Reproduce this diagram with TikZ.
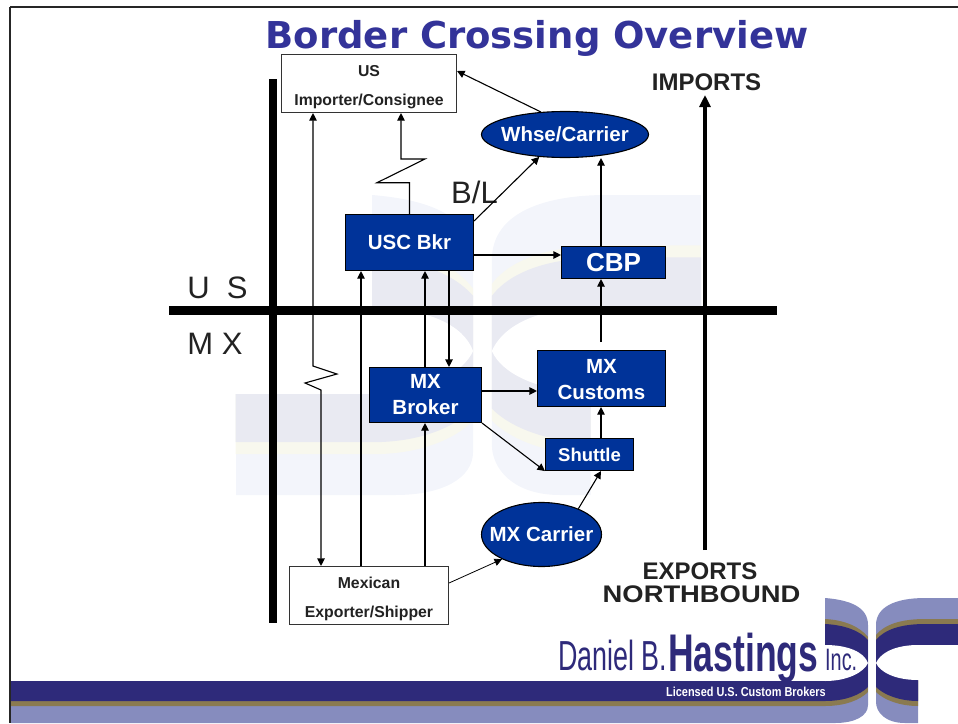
\documentclass[tikz,border=0pt]{standalone}
\usepackage{fontspec}
\usepackage{graphicx}
\setmainfont{Liberation Sans}
\newfontfamily\titlefont{DejaVu Sans}
\usetikzlibrary{arrows.meta,shapes.geometric}
\definecolor{boxblue}{HTML}{003399}
\definecolor{titleblue}{HTML}{333399}
\definecolor{inkgrey}{HTML}{222222}
\definecolor{logodark}{HTML}{2E2A7A}
\definecolor{logobrown}{HTML}{8A7A50}
\definecolor{logolight}{HTML}{868CBE}
\definecolor{paledark}{HTML}{E9EAF2}
\definecolor{palebrown}{HTML}{F8F8EE}
\definecolor{palelight}{HTML}{F3F5FB}
% #1 left end, #2 right end, #3 light, #4 brown, #5 dark
\newcommand{\hastingsmark}[5]{
\begin{scope}
\clip (825,598) .. controls (850,600) and (868,607) .. (868,625) -- (868,705) .. controls (868,716) and (855,723) .. (835,723) -- (#1,723) -- (#1,681) -- (825,681) -- cycle;
\fill[#3] (#1,590) rectangle (880,730);
\fill[#4] (825,619) .. controls (845,620) and (860,627) .. (868,637) -- (868,692) .. controls (860,700) and (845,706) .. (825,706) -- (#1,706) -- (#1,619) -- cycle;
\fill[#5] (825,624) .. controls (845,625) and (860,631) .. (868,640) -- (868,687) .. controls (860,695) and (845,701) .. (825,701) -- (#1,701) -- (#1,624) -- cycle;
\fill[white] (825,645) .. controls (848,645) and (864,652) .. (868,663) .. controls (864,672) and (848,681) .. (825,681) -- cycle;
\end{scope}
\begin{scope}
\clip (876,625) .. controls (876,607) and (895,598) .. (925,598) -- (#2,598) -- (#2,645) -- (918,645) -- (918,723) -- (905,723) .. controls (885,723) and (876,712) .. (876,702) -- cycle;
\fill[#3] (870,590) rectangle (#2,730);
\fill[#4] (876,635) .. controls (884,625) and (900,619) .. (925,619) -- (#2,619) -- (#2,706) -- (918,706) .. controls (900,706) and (884,700) .. (876,692) -- cycle;
\fill[#5] (876,640) .. controls (884,630) and (900,624) .. (925,624) -- (#2,624) -- (#2,701) -- (918,701) .. controls (900,701) and (884,695) .. (876,687) -- cycle;
\end{scope}
\fill[white] (#2,645) -- (915,645) .. controls (892,646) and (880,654) .. (876,663) .. controls (880,672) and (895,680) .. (918,680) -- (#2,680) -- cycle;
}
\newcommand{\dropline}[1]{\rule{0pt}{#1}}
\tikzset{
  bluebox/.style={draw=black, line width=1.1pt, fill=boxblue, text=white, inner sep=0pt, align=center, font=\bfseries\fontsize{20.5}{26}\selectfont},
  blueoval/.style={shape=ellipse, draw=black, line width=1.1pt, fill=boxblue, inner sep=0pt},
  ovaltext/.style={text=white, inner sep=0pt, font=\bfseries\fontsize{20.5}{26}\selectfont},
  partybox/.style={draw=black!80, line width=1.1pt, fill=white, text=inkgrey, inner sep=0pt, align=center, font=\bfseries\fontsize{15.8}{29}\selectfont},
  bigtag/.style={text=inkgrey, inner sep=0pt, font=\fontsize{31}{31}\selectfont},
  flowtag/.style={text=inkgrey, inner sep=0pt, font=\bfseries\fontsize{24}{24}\selectfont},
  logotag/.style={text=logodark, inner sep=0pt, anchor=base west},
  conn/.style={-{Triangle[length=7.5pt,width=7.5pt]}, line width=1.1pt, draw=black},
  bar/.style={line width=8.5pt, draw=black}
}
\begin{document}
\begin{tikzpicture}[x=1pt,y=-1pt]
\useasboundingbox (0,0) rectangle (958,723);
% faded mark behind the flow
\begin{scope}[shift={(372,195)},xscale=2.35,yscale=2.4,shift={(-825,-598)}]
\hastingsmark{767}{965}{palelight}{palebrown}{paledark}
\end{scope}
% page frame and footer
\hastingsmark{11}{958}{logolight}{logobrown}{logodark}
\draw[line width=2pt, draw=black!85] (10,7) -- (958,7);
\draw[line width=2pt, draw=black!85] (10,7) -- (10,723);
% border lines
\node[inner sep=0pt] (title) at (537,38.5) {\titlefont\bfseries\color{titleblue}\fontsize{37}{37}\selectfont Border Crossing Overview};
\coordinate (barN) at (273,79);
\coordinate (barS) at (273,622.5);
\coordinate (barW) at (169,310.5);
\coordinate (barE) at (777,310.5);
\draw[bar] (barN) -- (barS);
\draw[bar] (barW) -- (barE);
\node[bigtag] (us) at (217.5,288) {U\ \ S};
\node[bigtag] (mx) at (215,344) {M X};
\node[bigtag] (bl) at (474.5,192) {B/L};
% parties
\node[partybox, minimum width=175pt, minimum height=58pt] (importer) at (369,83.5) {\dropline{17.5pt}US\\Importer/Consignee};
\node[partybox, minimum width=159pt, minimum height=58pt] (exporter) at (369,595.5) {\dropline{17.5pt}Mexican\\Exporter/Shipper};
\node[bluebox, minimum width=128pt, minimum height=56pt] (uscbkr) at (409.5,242.5) {USC Bkr};
\node[bluebox, minimum width=104pt, minimum height=32pt, font=\bfseries\fontsize{26}{26}\selectfont] (cbp) at (613.5,262.5) {CBP};
\node[bluebox, minimum width=112pt, minimum height=55pt] (mxbroker) at (425.5,395) {MX\\Broker};
\node[bluebox, minimum width=128pt, minimum height=56pt] (customs) at (601.5,378.5) {\dropline{17pt}MX\\Customs};
\node[bluebox, minimum width=88pt, minimum height=32pt, font=\bfseries\fontsize{18.5}{20}\selectfont] (shuttle) at (589.5,454.5) {Shuttle};
\node[blueoval, minimum width=167pt, minimum height=46pt, label={[ovaltext]center:Whse/Carrier}] (whse) at (565,134.5) {};
\node[blueoval, minimum width=120pt, minimum height=64pt, label={[ovaltext]center:MX Carrier}] (mxcarrier) at (541.5,534.5) {};
% imports and exports
\node[flowtag] (imports) at (706.5,82) {IMPORTS};
\node[flowtag] (exports) at (700,571) {EXPORTS};
\node[flowtag] (northbound) at (701.5,594) {\scalebox{1.14}[1]{NORTHBOUND}};
\coordinate (flowstart) at (705,550);
\coordinate (flowend) at (705,95);
\draw[-{Triangle[length=12pt,width=11pt]}, line width=3.5pt, draw=black] (flowstart) -- (flowend);
% connectors
\coordinate (customsout) at (601,342);
\draw[conn] (exporter.north -| 361,0) -- (uscbkr.south -| 361,0);
\draw[conn] (exporter.north -| 425,0) -- (mxbroker.south -| 425,0);
\draw[conn] (mxbroker.north -| 425,0) -- (uscbkr.south -| 425,0);
\draw[conn] (uscbkr.south -| 449,0) -- (mxbroker.north -| 449,0);
\draw[conn] (uscbkr.east |- 0,255) -- (cbp.west |- 0,255);
\draw[conn] (uscbkr.east |- 0,221) -- (whse.221);
\draw[conn] (whse.137) -- (importer.east |- 0,71);
\draw[conn] (cbp.north -| 601,0) -- (whse.south -| 601,0);
\draw[conn] (customsout) -- (cbp.south -| 601,0);
\draw[conn] (mxbroker.east |- 0,391) -- (customs.west |- 0,391);
\draw[conn] (mxbroker.south east) -- (shuttle.south west);
\draw[conn] (shuttle.north -| 601,0) -- (customs.south -| 601,0);
\draw[conn] (mxcarrier.35) -- (shuttle.south -| 601,0);
\draw[conn, line width=0.8pt] (exporter.east |- 0,583) -- (mxcarrier.212);
\draw[conn] (uscbkr.north) -- (409.5,182.7) -- (377,182.7) -- (425,159) -- (401,159) -- (importer.south -| 401,0);
\draw[conn, {Triangle[length=7.5pt,width=7.5pt]}-{Triangle[length=7.5pt,width=7.5pt]}] (importer.south -| 313,0) -- (313,366) -- (337,374) -- (305,383) -- (321,390) -- (exporter.north -| 321,0);
% logo lettering
\node[logotag] (daniel) at (558,670.5) {\scalebox{.64}[1]{\fontsize{42}{42}\selectfont Daniel B.}};
\node[logotag] (hastings) at (668,671) {\scalebox{.67}[1]{\bfseries\fontsize{53}{53}\selectfont Hastings}};
\node[logotag] (inc) at (825,670) {\scalebox{.64}[1]{\fontsize{31}{31}\selectfont Inc.}};
\node[logotag, text=white] (licensed) at (666,696) {\scalebox{.84}[1]{\bfseries\fontsize{13}{13}\selectfont Licensed U.S. Custom Brokers}};
\end{tikzpicture}
\end{document}
